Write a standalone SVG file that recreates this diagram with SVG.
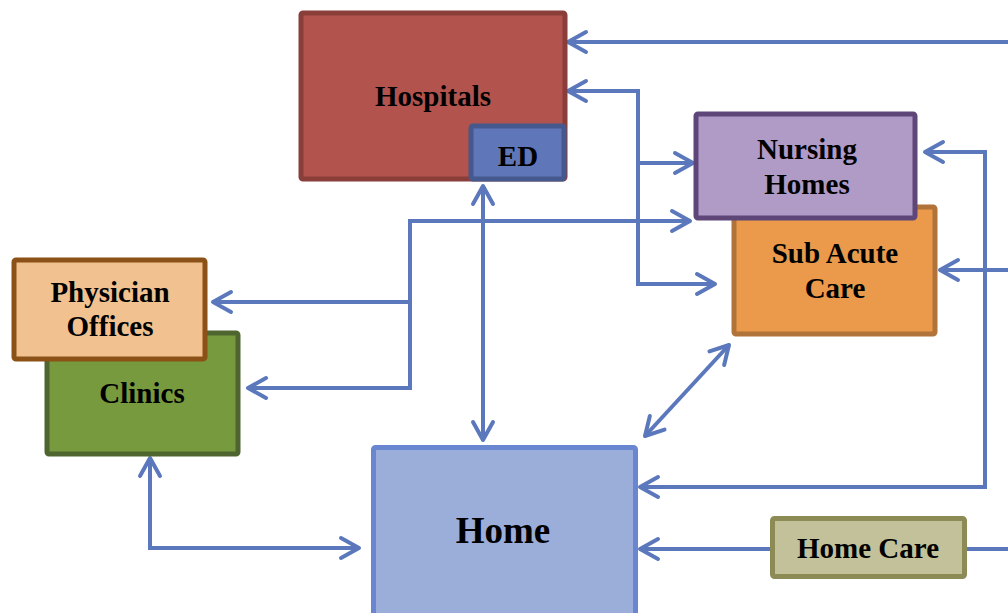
<svg xmlns="http://www.w3.org/2000/svg" width="1008" height="613" viewBox="0 0 1008 613">
<style>
.lbl{font-family:"Liberation Serif","Times New Roman",serif;font-weight:bold;font-size:29px;fill:#000;text-anchor:middle}
.box{stroke-width:5}
.c{fill:none;stroke:#5C78BC;stroke-width:4}
</style>
<defs>
<marker id="ah" markerUnits="userSpaceOnUse" markerWidth="30" markerHeight="30" viewBox="-22 -15 30 30" refX="0" refY="0" orient="auto-start-reverse" overflow="visible">
<path d="M-18,-10 L0,0 L-18,10" fill="none" stroke="#5C78BC" stroke-width="4" stroke-linecap="round" stroke-linejoin="round"/>
</marker>
</defs>
<rect width="1008" height="613" fill="#FFFFFF"/>
<g id="connectors">
<path class="c" d="M1008 42 H568" marker-end="url(#ah)"/>
<path class="c" d="M568 91 H638 V284 H715" marker-start="url(#ah)" marker-end="url(#ah)"/>
<path class="c" d="M638 163 H693" marker-end="url(#ah)"/>
<path class="c" d="M483 186 V440" marker-start="url(#ah)" marker-end="url(#ah)"/>
<path class="c" d="M690 221 H410 V388 H248" marker-start="url(#ah)" marker-end="url(#ah)"/>
<path class="c" d="M410 302 H213" marker-end="url(#ah)"/>
<path class="c" d="M729 345 L645 436" marker-start="url(#ah)" marker-end="url(#ah)"/>
<path class="c" d="M1008 270 H940" marker-end="url(#ah)"/>
<path class="c" d="M925 152 H985 V487 H640" marker-start="url(#ah)" marker-end="url(#ah)"/>
<path class="c" d="M1008 549 H967"/>
<path class="c" d="M770 549 H640" marker-end="url(#ah)"/>
<path class="c" d="M150 458 V548 H359" marker-start="url(#ah)" marker-end="url(#ah)"/>
</g>
<g id="hospitals">
<rect class="box" x="301" y="13" width="264" height="166" rx="2" fill="#B3534D" stroke="#8A3E3A"/>
<text class="lbl" x="433" y="106">Hospitals</text>
</g>
<g id="ed">
<rect class="box" x="471" y="126" width="93" height="53" rx="2" fill="#5F77B9" stroke="#46598E"/>
<text class="lbl" x="518" y="166">ED</text>
</g>
<g id="sub-acute-care">
<rect class="box" x="734" y="207" width="201" height="127" rx="2" fill="#EA9A4A" stroke="#B0733A"/>
<text class="lbl" x="835" y="263">Sub Acute</text>
<text class="lbl" x="835" y="298">Care</text>
</g>
<g id="nursing-homes">
<rect class="box" x="696" y="114" width="219" height="104" rx="2" fill="#B09AC6" stroke="#5F4679"/>
<text class="lbl" x="807" y="159">Nursing</text>
<text class="lbl" x="807" y="194">Homes</text>
</g>
<g id="clinics">
<rect class="box" x="47" y="333" width="191" height="121" rx="2" fill="#779A3E" stroke="#4E6530"/>
<text class="lbl" x="142" y="403">Clinics</text>
</g>
<g id="physician-offices">
<rect class="box" x="14" y="260" width="191" height="99" rx="2" fill="#F1C18F" stroke="#8C5117"/>
<text class="lbl" x="110" y="302">Physician</text>
<text class="lbl" x="110" y="336">Offices</text>
</g>
<g id="home">
<rect class="box" x="373.5" y="447.5" width="262" height="175" rx="2" fill="#9AAED9" stroke="#6B86D0"/>
<text class="lbl" x="503" y="543" style="font-size:37px">Home</text>
</g>
<g id="home-care">
<rect class="box" x="772.5" y="518.5" width="192" height="58" rx="2" fill="#C3C19A" stroke="#8D8B55"/>
<text class="lbl" x="868" y="558">Home Care</text>
</g>
</svg>
